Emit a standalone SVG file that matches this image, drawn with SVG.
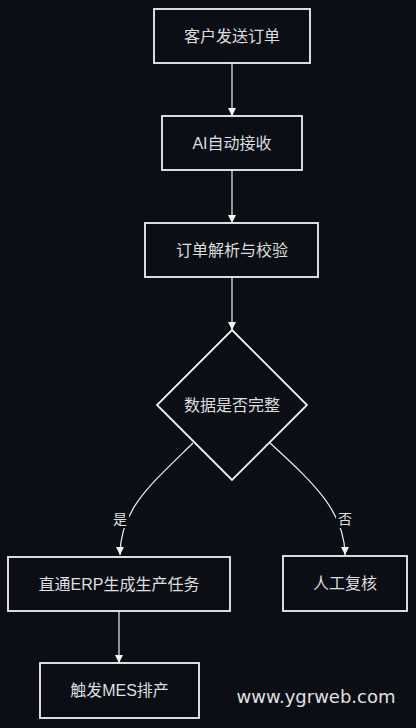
<svg xmlns="http://www.w3.org/2000/svg" width="416" height="728" viewBox="0 0 416 728">
<defs>
<style>
.box{fill:#0b0e15;stroke:#f2f2f2;stroke-width:1.8}
.t{font-family:"Liberation Sans","Noto Sans CJK SC",sans-serif;font-size:16px;fill:#dedede;text-anchor:middle;dominant-baseline:central}
.lbl{font-family:"Liberation Sans","Noto Sans CJK SC",sans-serif;font-size:14px;fill:#dedede;text-anchor:middle;dominant-baseline:central}
.edge{fill:none;stroke:#f0f0f0;stroke-width:1.2}
</style>
<marker id="ah" viewBox="0 0 10 10" refX="10" refY="5" markerWidth="8" markerHeight="8" markerUnits="userSpaceOnUse" orient="auto">
<path d="M0,0 L10,5 L0,10 z" fill="#f4f4f4"/>
</marker>
</defs>
<rect width="416" height="728" fill="#0b0e15"/>
<g id="edges">
<path class="edge" d="M232,63 L232,116" marker-end="url(#ah)"/>
<path class="edge" d="M232,170 L232,223" marker-end="url(#ah)"/>
<path class="edge" d="M232,277 L232,330" marker-end="url(#ah)"/>
<path class="edge" d="M193,443 C150,485 120,510 120,555" marker-end="url(#ah)"/>
<path class="edge" d="M270,443 C310,480 345,510 345,555" marker-end="url(#ah)"/>
<path class="edge" d="M119,611 L119,663" marker-end="url(#ah)"/>
<g id="label-yes"><rect x="111" y="510" width="18" height="18" fill="#0b0e15"/><text class="lbl" x="120" y="519">是</text></g>
<g id="label-no"><rect x="336" y="510" width="18" height="18" fill="#0b0e15"/><text class="lbl" x="345" y="519">否</text></g>
</g>
<g id="n1"><rect class="box" x="154" y="9" width="156" height="54"/><text class="t" x="232" y="36">客户发送订单</text></g>
<g id="n2"><rect class="box" x="162" y="116" width="140" height="54"/><text class="t" x="232" y="143">AI自动接收</text></g>
<g id="n3"><rect class="box" x="145" y="223" width="173" height="54"/><text class="t" x="232" y="250">订单解析与校验</text></g>
<g id="n4"><path class="box" d="M232,330 L307,405 L232,480 L157,405 Z"/><text class="t" x="232" y="405">数据是否完整</text></g>
<g id="n5"><rect class="box" x="8" y="557" width="222" height="54"/><text class="t" x="119" y="584">直通ERP生成生产任务</text></g>
<g id="n6"><rect class="box" x="283" y="556" width="124" height="55"/><text class="t" x="345" y="583">人工复核</text></g>
<g id="n7"><rect class="box" x="40" y="663" width="159" height="55"/><text class="t" x="119.5" y="690">触发MES排产</text></g>
<text x="316" y="696" font-family="'DejaVu Sans',sans-serif" font-size="18" fill="#e0e0e0" text-anchor="middle" dominant-baseline="central">www.ygrweb.com</text>
</svg>
